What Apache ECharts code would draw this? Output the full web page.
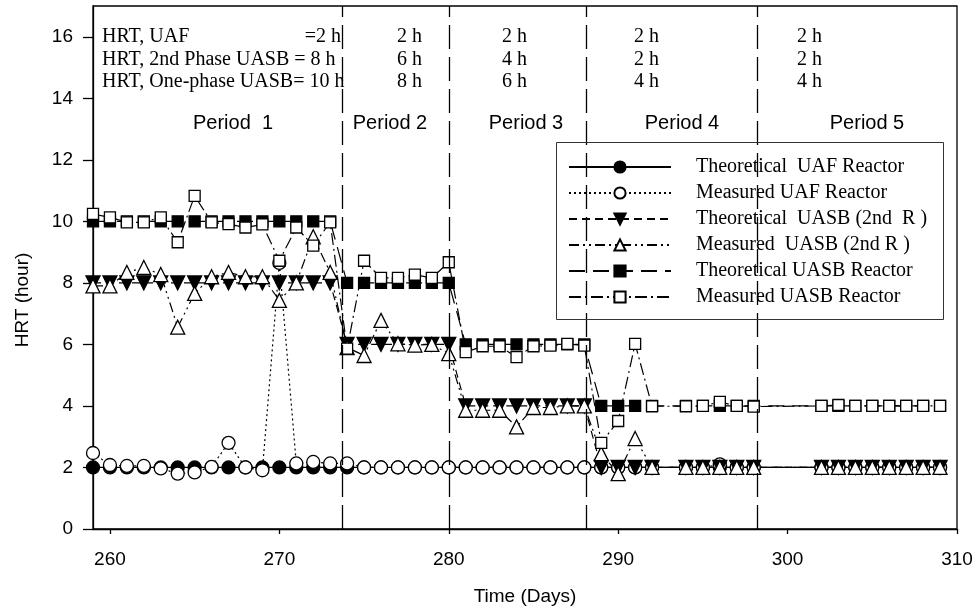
<!DOCTYPE html>
<html>
<head>
<meta charset="utf-8">
<script src="https://cdn.jsdelivr.net/npm/echarts@6/dist/echarts.min.js"></script>
<style>
  html, body { margin: 0; padding: 0; background: #fff; }
  #chart { width: 977px; height: 615px; }
</style>
</head>
<body>
<div id="chart"></div>
<script>
// Sampling days (no samples on 293 and 299-301)
const days = [259, 260, 261, 262, 263, 264, 265, 266, 267, 268, 269, 270, 271, 272, 273,
              274, 275, 276, 277, 278, 279, 280,
              281, 282, 283, 284, 285, 286, 287, 288,
              289, 290, 291, 292, 294, 295, 296, 297, 298,
              302, 303, 304, 305, 306, 307, 308, 309];

// HRT (hour) per day, one array per curve
const theoUAF = [2, 2, 2, 2, 2, 2, 2, 2, 2, 2, 2, 2, 2, 2, 2,
                 2, 2, 2, 2, 2, 2, 2,
                 2, 2, 2, 2, 2, 2, 2, 2,
                 2, 2, 2, 2, 2, 2, 2, 2, 2,
                 2, 2, 2, 2, 2, 2, 2, 2];
const measUAF = [2.47, 2.08, 2.05, 2.05, 1.97, 1.8, 1.84, 2.02, 2.8, 2.0, 1.91, 8.65, 2.13, 2.18, 2.13,
                 2.13, 2.0, 2.0, 2.0, 2.0, 2.0, 2.0,
                 2.0, 2.0, 2.0, 2.0, 2.0, 2.0, 2.0, 2.0,
                 2.0, 2.0, 2.0, 2.0, 2.0, 2.0, 2.1, 2.0, 2.0,
                 2.0, 2.0, 2.0, 2.0, 2.0, 2.0, 2.0, 2.0];
const theo2ndR = [8, 8, 8, 8, 8, 8, 8, 8, 8, 8, 8, 8, 8, 8, 8,
                  6, 6, 6, 6, 6, 6, 6,
                  4, 4, 4, 4, 4, 4, 4, 4,
                  2, 2, 2, 2, 2, 2, 2, 2, 2,
                  2, 2, 2, 2, 2, 2, 2, 2];
const meas2ndR = [7.9, 7.9, 8.34, 8.5, 8.27, 6.56, 7.66, 8.2, 8.34, 8.2, 8.2, 7.43, 8.0, 9.5, 8.34,
                  5.9, 5.64, 6.78, 6.02, 5.98, 6.0, 5.7,
                  3.86, 3.86, 3.86, 3.32, 3.95, 3.95, 4.0, 4.0,
                  2.45, 1.8, 2.94, 2.0, 2.0, 2.0, 2.0, 2.0, 2.0,
                  2.0, 2.0, 2.0, 2.0, 2.0, 2.0, 2.0, 2.0];
const theoUASB = [10, 10, 10, 10, 10, 10, 10, 10, 10, 10, 10, 10, 10, 10, 10,
                  8, 8, 8, 8, 8, 8, 8,
                  6, 6, 6, 6, 6, 6, 6, 6,
                  4, 4, 4, 4, 4, 4, 4, 4, 4,
                  4, 4, 4, 4, 4, 4, 4, 4];
const measUASB = [10.24, 10.13, 9.97, 9.97, 10.13, 9.32, 10.83, 9.97, 9.91, 9.8, 9.9, 8.72, 9.8, 9.21, 9.97,
                  5.86, 8.72, 8.16, 8.16, 8.27, 8.16, 8.67,
                  5.75, 5.94, 5.94, 5.59, 5.94, 5.96, 6.02, 5.96,
                  2.8, 3.51, 6.02, 3.99, 3.99, 4.0, 4.13, 4.0, 3.98,
                  4.0, 4.03, 4.0, 4.0, 4.0, 4.0, 4.0, 4.0];

// Period boundaries (days)
const periodBounds = [273.7, 280, 288.1, 298.2];

// Axis ticks
const xTicks = [260, 270, 280, 290, 300, 310];
const yTicks = [0, 2, 4, 6, 8, 10, 12, 14, 16];

// Header table of HRT settings per period
const rowLabels = ['HRT, UAF', 'HRT, 2nd Phase UASB = 8 h', 'HRT, One-phase UASB= 10 h'];
const hrtUAFCols = ['2 h', '2 h', '2 h', '2 h'];
const hrt2ndCols = ['6 h', '4 h', '2 h', '2 h'];
const hrtOneCols = ['8 h', '6 h', '4 h', '4 h'];
const periodNames = ['Period  1', 'Period 2', 'Period 3', 'Period 4', 'Period 5'];

const seriesNames = [
  'Theoretical  UAF Reactor',
  'Measured UAF Reactor',
  'Theoretical  UASB (2nd  R )',
  'Measured  UASB (2nd R )',
  'Theoretical UASB Reactor',
  'Measured UASB Reactor'
];

const SANS = '"Liberation Sans", Arial, sans-serif';
const SERIF = '"Liberation Serif", "Times New Roman", serif';

function pairs(vals) { return days.map((d, i) => [d, vals[i]]); }

function lineSeries(name, vals, symbol, size, fill, dash, extra) {
  return Object.assign({
    name: name,
    type: 'line',
    data: pairs(vals),
    symbol: symbol,
    symbolSize: size,
    showAllSymbol: true,
    animation: false,
    silent: true,
    lineStyle: { color: '#000', width: 1.2, type: dash },
    itemStyle: { color: fill, borderColor: '#000', borderWidth: 1.3, opacity: 1 },
    emphasis: { disabled: true }
  }, extra || {});
}

const series = [
  lineSeries(seriesNames[0], theoUAF, 'circle', 13, '#000', 'solid', {
    markLine: {
      silent: true,
      symbol: ['none', 'none'],
      label: { show: false },
      lineStyle: { color: '#000', width: 1.3, type: [24, 8] },
      data: periodBounds.map(v => ({ xAxis: v }))
    }
  }),
  lineSeries(seriesNames[1], measUAF, 'circle', 13, '#fff', [2, 3]),
  lineSeries(seriesNames[2], theo2ndR, 'triangle', 14, '#000', [8, 5], { symbolRotate: 180 }),
  lineSeries(seriesNames[3], meas2ndR, 'triangle', 14, '#fff', [10, 4, 2, 4, 2, 4]),
  lineSeries(seriesNames[4], theoUASB, 'rect', 11, '#000', [16, 8]),
  lineSeries(seriesNames[5], measUASB, 'rect', 11, '#fff', [12, 4, 2, 4])
];

// Header text and period captions
const graphics = [];
const rowY = [36.5, 59.5, 82];
const colX = [397, 502, 634, 797];
const serifFont = '20px ' + SERIF;
graphics.push({ type: 'text', x: 102, y: rowY[0], style: { text: rowLabels[0], font: serifFont, fill: '#000', align: 'left', verticalAlign: 'middle' } });
graphics.push({ type: 'text', x: 341, y: rowY[0], style: { text: '=2 h', font: serifFont, fill: '#000', align: 'right', verticalAlign: 'middle' } });
graphics.push({ type: 'text', x: 102, y: rowY[1], style: { text: rowLabels[1], font: serifFont, fill: '#000', align: 'left', verticalAlign: 'middle' } });
graphics.push({ type: 'text', x: 102, y: rowY[2], style: { text: rowLabels[2], font: serifFont, fill: '#000', align: 'left', verticalAlign: 'middle' } });
[hrtUAFCols, hrt2ndCols, hrtOneCols].forEach((row, r) => {
  row.forEach((t, c) => {
    graphics.push({ type: 'text', x: colX[c], y: rowY[r], style: { text: t, font: serifFont, fill: '#000', align: 'left', verticalAlign: 'middle' } });
  });
});
const periodX = [233, 390, 526, 682, 867];
periodNames.forEach((t, i) => {
  graphics.push({ type: 'text', x: periodX[i], y: 123, style: { text: t, font: '20px ' + SANS, fill: '#000', align: 'center', verticalAlign: 'middle' } });
});
// Y axis title
graphics.push({ type: 'text', x: 23, y: 300, rotation: Math.PI / 2, style: { text: 'HRT (hour)', font: '19px ' + SANS, fill: '#000', align: 'center', verticalAlign: 'middle' } });
// Legend frame
graphics.push({ type: 'rect', shape: { x: 556.5, y: 142.5, width: 387, height: 177 }, style: { fill: 'none', stroke: '#333', lineWidth: 1 }, z: 10 });

const chart = echarts.init(document.getElementById('chart'), null, { renderer: 'canvas' });
chart.setOption({
  backgroundColor: '#fff',
  animation: false,
  grid: {
    left: 93, right: 20, top: 6, bottom: 86,
    show: true, borderColor: '#000', borderWidth: 1.3, backgroundColor: 'transparent'
  },
  xAxis: {
    type: 'value',
    min: 259, max: 310,
    name: 'Time (Days)',
    nameLocation: 'middle',
    nameGap: 58,
    nameTextStyle: { fontFamily: SANS, fontSize: 19, color: '#000' },
    axisLine: { show: true, onZero: false, lineStyle: { color: '#000', width: 1.3 } },
    axisTick: { show: true, inside: false, length: 5, lineStyle: { color: '#000', width: 1.3 }, customValues: xTicks },
    axisLabel: { show: true, margin: 21, fontFamily: SANS, fontSize: 19, color: '#000', customValues: xTicks },
    splitLine: { show: false }
  },
  yAxis: {
    type: 'value',
    min: 0, max: 17,
    axisLine: { show: true, onZero: false, lineStyle: { color: '#000', width: 1.3 } },
    axisTick: { show: true, inside: false, length: 10, lineStyle: { color: '#000', width: 1.3 }, customValues: yTicks },
    axisLabel: { show: true, margin: 20, fontFamily: SANS, fontSize: 19, color: '#000', customValues: yTicks },
    splitLine: { show: false }
  },
  legend: {
    show: true,
    orient: 'vertical',
    left: 568, top: 157,
    itemWidth: 102, itemHeight: 14, itemGap: 6,
    selectedMode: false,
    padding: 0,
    textStyle: { fontFamily: SERIF, fontSize: 20, color: '#000', lineHeight: 20, padding: [0, 0, 0, 20] },
    data: seriesNames
  },
  graphic: graphics,
  series: series
});
</script>
</body>
</html>
